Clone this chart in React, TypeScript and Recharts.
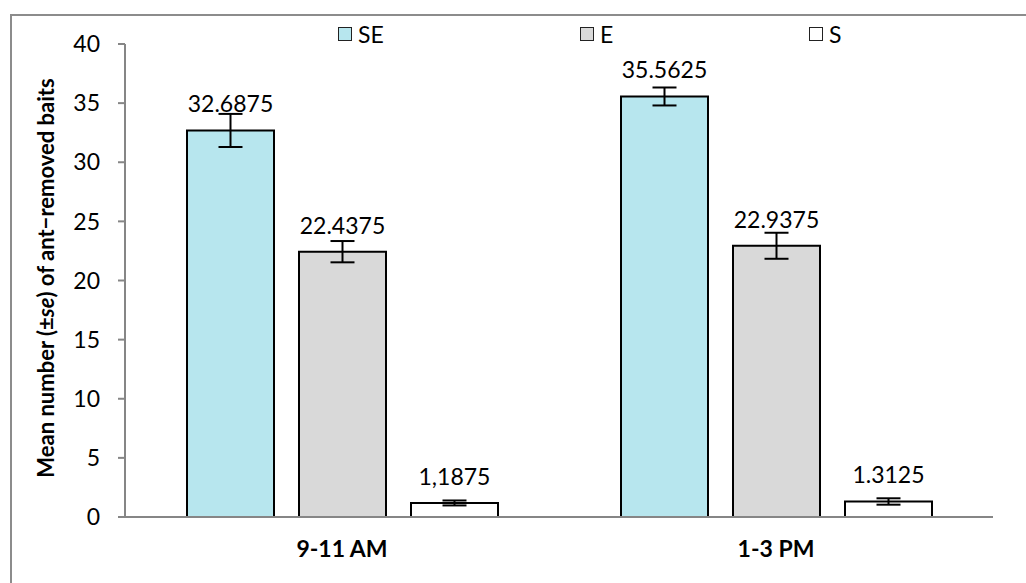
import React from 'react';
import { BarChart, Bar, XAxis, YAxis, ErrorBar, LabelList, Legend, Label } from 'recharts';

const categories = ['9-11 AM', '1-3 PM'];
const seValues = [32.6875, 35.5625];
const eValues = [22.4375, 22.9375];
const sValues = [1.1875, 1.3125];
const seErrors = [1.4, 0.76];
const eErrors = [0.9, 1.1];
const sErrors = [0.21, 0.27];
const seLabels = ['32.6875', '35.5625'];
const eLabels = ['22.4375', '22.9375'];
const sLabels = ['1,1875', '1.3125'];
const yTicks = [0, 5, 10, 15, 20, 25, 30, 35, 40];
const seriesNames = ['SE', 'E', 'S'];
const seriesColors = ['#b7e6ee', '#d9d9d9', '#ffffff'];

const data = categories.map((c, i) => ({
  cat: c,
  se: seValues[i], e: eValues[i], s: sValues[i],
  seErr: seErrors[i], eErr: eErrors[i], sErr: sErrors[i],
  seLab: seLabels[i], eLab: eLabels[i], sLab: sLabels[i],
}));

const FONT = 'Lato, "Open Sans", sans-serif';
const AXIS = '#868686';
const legendLeft = [338, 580, 809];

const renderLegend = () => (
  <div style={{ position: 'relative', width: 1026, height: 30 }}>
    {seriesNames.map((name, i) => (
      <div key={name} style={{ position: 'absolute', left: legendLeft[i], top: 0, display: 'flex', alignItems: 'center', fontFamily: FONT, fontSize: 23, color: '#000', lineHeight: '26px' }}>
        <span style={{ display: 'inline-block', width: 12, height: 12, background: seriesColors[i], border: '1.5px solid #222', marginRight: 6 }} />
        <span>{name}</span>
      </div>
    ))}
  </div>
);

const YLabel = () => (
  <text transform="translate(45,278) rotate(-90)" textAnchor="middle" dominantBaseline="central" fontFamily={FONT} fontWeight="bold" fontSize={22} fill="#000">
    Mean number (±<tspan fontStyle="italic">se</tspan>) of ant−removed baits
  </text>
);

export default function App() {
  return (
    <div style={{ position: 'absolute', left: 0, top: 0, width: 1026, height: 583, background: '#fff', overflow: 'hidden' }}>
      <div style={{ position: 'absolute', left: 10, top: 14, width: 1040, height: 600, border: '2px solid #8c8c8c', boxSizing: 'border-box' }} />
      <div style={{ position: 'absolute', left: 0, top: 0 }}>
        <BarChart width={1026} height={583} data={data} margin={{ top: 44, right: 33, left: 0, bottom: 0 }} barCategoryGap={62} barGap={25}>
          <XAxis xAxisId="t" type="number" domain={[0, 2]} ticks={[0, 1, 2]} tick={false} axisLine={false} tickLine={{ stroke: AXIS, strokeWidth: 2 }} tickSize={7} height={0} />
          <XAxis dataKey="cat" axisLine={{ stroke: AXIS, strokeWidth: 2 }} tickLine={false} tickSize={0} tickMargin={24} height={66} tick={{ fill: '#000', fontFamily: FONT, fontWeight: 'bold', fontSize: 23 }} />
          <YAxis domain={[0, 40]} ticks={yTicks} width={125} axisLine={{ stroke: AXIS, strokeWidth: 2 }} tickLine={{ stroke: AXIS, strokeWidth: 2 }} tickSize={7} tickMargin={18} tick={{ fill: '#000', fontFamily: FONT, fontSize: 23 }} interval={0}>
            <Label content={<YLabel />} />
          </YAxis>
          <Legend layout="horizontal" verticalAlign="middle" align="center" wrapperStyle={{ top: 21, left: 0, width: 1026, height: 30 }} content={renderLegend} />
          <Bar dataKey="se" name={seriesNames[0]} fill={seriesColors[0]} stroke="#000" strokeWidth={2} isAnimationActive={false}>
            <ErrorBar dataKey="seErr" width={12} stroke="#000" strokeWidth={2} isAnimationActive={false} />
            <LabelList dataKey="seLab" position="top" offset={18} fill="#000" fontFamily={FONT} fontSize={23} />
          </Bar>
          <Bar dataKey="e" name={seriesNames[1]} fill={seriesColors[1]} stroke="#000" strokeWidth={2} isAnimationActive={false}>
            <ErrorBar dataKey="eErr" width={12} stroke="#000" strokeWidth={2} isAnimationActive={false} />
            <LabelList dataKey="eLab" position="top" offset={18} fill="#000" fontFamily={FONT} fontSize={23} />
          </Bar>
          <Bar dataKey="s" name={seriesNames[2]} fill={seriesColors[2]} stroke="#000" strokeWidth={2} isAnimationActive={false}>
            <ErrorBar dataKey="sErr" width={12} stroke="#000" strokeWidth={2} isAnimationActive={false} />
            <LabelList dataKey="sLab" position="top" offset={18} fill="#000" fontFamily={FONT} fontSize={23} />
          </Bar>
        </BarChart>
      </div>
    </div>
  );
}
